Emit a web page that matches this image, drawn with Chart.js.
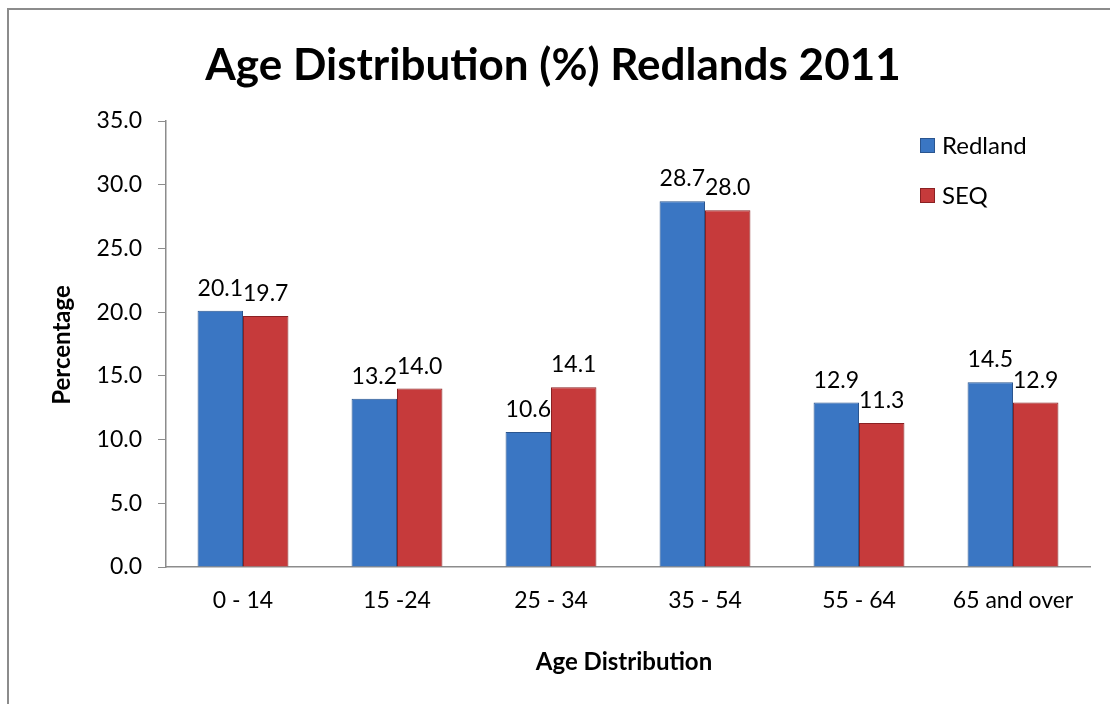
<!DOCTYPE html>
<html>
<head>
<meta charset="utf-8">
<script src="https://cdn.jsdelivr.net/npm/chart.js@4.4.0/dist/chart.umd.min.js"></script>
<style>
  html, body { margin: 0; padding: 0; background: #fff; }
  #wrap { width: 1110px; height: 704px; position: relative; }
</style>
</head>
<body>
<div id="wrap"><canvas id="ageChart" width="1110" height="704"></canvas></div>
<script>
const categories = ['0 - 14', '15 -24', '25 - 34', '35 - 54', '55 - 64', '65 and over'];
const redland = [20.1, 13.2, 10.6, 28.7, 12.9, 14.5];
const seq = [19.7, 14.0, 14.1, 28.0, 11.3, 12.9];
const seriesNames = ['Redland', 'SEQ'];
const yMin = 0, yMax = 35, yStep = 5;

const FONT = 'Lato, "Open Sans", sans-serif';

// side-to-side shading like the excel bevel bars
function barFill(dark, mid, light) {
    return (ctx) => {
        const el = ctx.element;
        if (!el || el.width === undefined || !isFinite(el.x)) return mid;
        const g = ctx.chart.ctx.createLinearGradient(el.x - el.width / 2, 0, el.x + el.width / 2, 0);
        g.addColorStop(0, dark);
        g.addColorStop(0.08, light);
        g.addColorStop(0.2, mid);
        g.addColorStop(0.85, mid);
        g.addColorStop(1, dark);
        return g;
    };
}

const colors = [
    { dark: '#2b5a98', mid: '#3a76c3', light: '#4a86d0', edge: '#2a558f' },
    { dark: '#962427', mid: '#c63a3b', light: '#d24a4a', edge: '#8a2123' }
];

const decor = {
    id: 'decor',
    afterDraw(chart) {
        const c = chart.ctx;
        const area = chart.chartArea;
        c.save();
        // outer frame
        c.strokeStyle = '#8c8c8c';
        c.lineWidth = 2;
        c.strokeRect(8, 9, 1200, 800);

        // title
        c.fillStyle = '#000';
        c.textAlign = 'center';
        c.textBaseline = 'alphabetic';
        c.font = 'bold 44px ' + FONT;
        c.fillText('Age Distribution (%) Redlands 2011', 553, 80);

        // axis titles
        c.textBaseline = 'middle';
        c.font = 'bold 24px ' + FONT;
        c.fillText('Age Distribution', (area.left + area.right) / 2 - 4, 662);
        c.save();
        c.translate(62, 345);
        c.rotate(-Math.PI / 2);
        c.fillText('Percentage', 0, 0);
        c.restore();

        // legend
        c.font = '24px ' + FONT;
        c.textAlign = 'left';
        chart.data.datasets.forEach((ds, i) => {
            const y = 145 + i * 50;
            c.fillStyle = colors[i].mid;
            c.fillRect(920, y - 7, 15, 15);
            c.strokeStyle = colors[i].edge;
            c.lineWidth = 1;
            c.strokeRect(920.5, y - 6.5, 14, 14);
            c.fillStyle = '#000';
            c.fillText(ds.label, 942, y + 1);
        });

        // value labels
        c.font = '23px ' + FONT;
        c.textAlign = 'center';
        c.textBaseline = 'alphabetic';
        chart.data.datasets.forEach((ds, i) => {
            chart.getDatasetMeta(i).data.forEach((bar, j) => {
                c.fillText(ds.data[j].toFixed(1), bar.x, bar.y - 15);
            });
        });
        c.restore();
    }
};

new Chart(document.getElementById('ageChart'), {
    type: 'bar',
    data: {
        labels: categories,
        datasets: [redland, seq].map((vals, i) => ({
            label: seriesNames[i],
            data: vals,
            backgroundColor: barFill(colors[i].dark, colors[i].mid, colors[i].light),
            borderColor: colors[i].edge,
            borderWidth: 1,
            barPercentage: 1.0,
            categoryPercentage: 0.59
        }))
    },
    options: {
        responsive: false,
        animation: false,
        layout: { padding: { top: 121, right: 20, left: 0, bottom: 0 } },
        plugins: {
            legend: { display: false },
            title: { display: false },
            tooltip: { enabled: false }
        },
        scales: {
            x: {
                grid: { display: false, drawOnChartArea: false, drawTicks: true, tickLength: 8, offset: true, color: '#8c8c8c' },
                border: { color: '#8c8c8c', width: 1.5 },
                ticks: { color: '#000', font: { family: FONT, size: 23 }, padding: 12, maxRotation: 0 },
                afterFit(scale) { scale.height = 704 - 567; }
            },
            y: {
                min: yMin,
                max: yMax,
                grid: { drawOnChartArea: false, drawTicks: true, tickLength: 8, color: '#8c8c8c' },
                border: { color: '#8c8c8c', width: 1.5 },
                ticks: {
                    stepSize: yStep,
                    color: '#000',
                    font: { family: FONT, size: 23 },
                    padding: 16,
                    callback: (v) => v.toFixed(1)
                },
                afterFit(scale) { scale.width = 166; }
            }
        }
    },
    plugins: [decor]
});
</script>
</body>
</html>
